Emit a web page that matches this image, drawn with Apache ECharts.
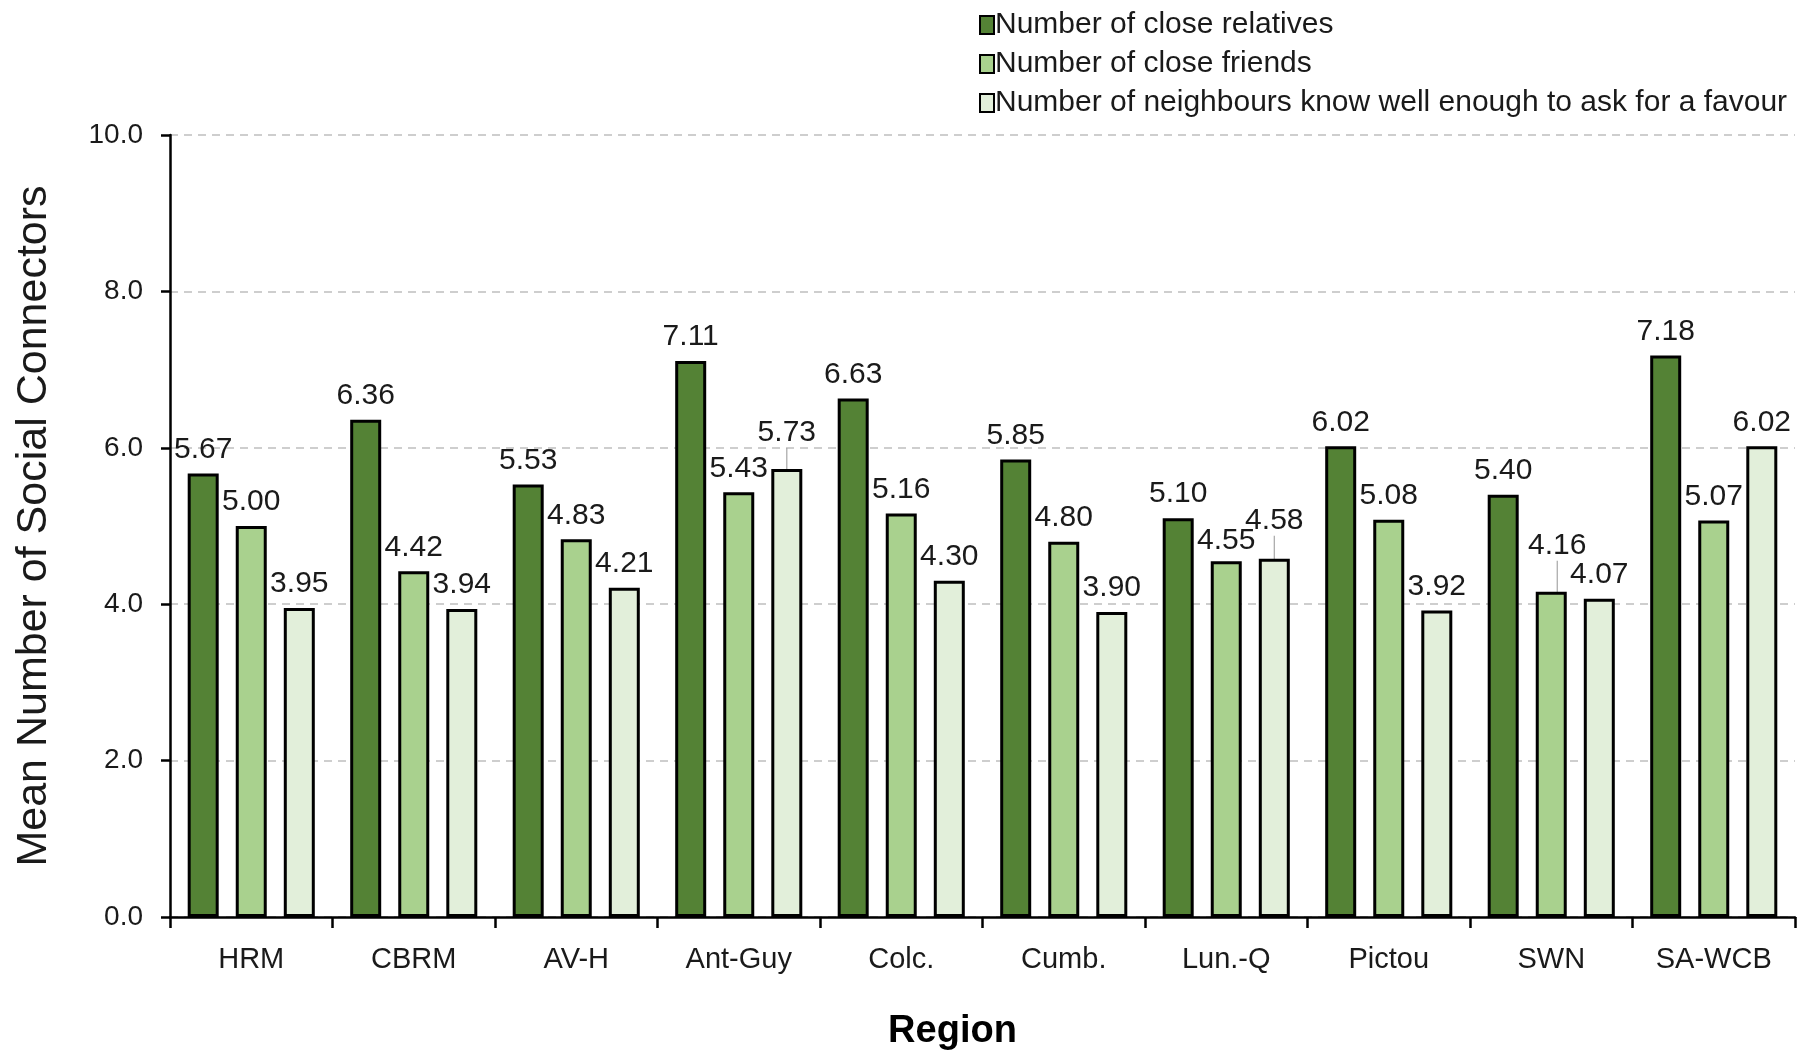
<!DOCTYPE html>
<html lang="en">
<head>
<meta charset="UTF-8">
<title>Social Connectors by Region</title>
<script src="https://cdn.jsdelivr.net/npm/echarts@6/dist/echarts.min.js"></script>
<style>
  html, body { margin: 0; padding: 0; background: #fff; }
  #cc { width: 1798px; height: 1050px; }
</style>
</head>
<body>
<div id="cc"></div>
<script>
var regions = ['HRM', 'CBRM', 'AV-H', 'Ant-Guy', 'Colc.', 'Cumb.', 'Lun.-Q', 'Pictou', 'SWN', 'SA-WCB'];
var relatives = [5.67, 6.36, 5.53, 7.11, 6.63, 5.85, 5.10, 6.02, 5.40, 7.18];
var friends = [5.00, 4.42, 4.83, 5.43, 5.16, 4.80, 4.55, 5.08, 4.16, 5.07];
var neighbours = [3.95, 3.94, 4.21, 5.73, 4.30, 3.90, 4.58, 3.92, 4.07, 6.02];
var seriesNames = [
    'Number of close relatives',
    'Number of close friends',
    'Number of neighbours know well enough to ask for a favour'
];
var yTicks = [0, 2, 4, 6, 8, 10];

var font = "'Liberation Sans', Arial, sans-serif";
var colors = ['#548235', '#a9d18e', '#e2efda'];

// a few labels were nudged by hand in the original; the lifted ones get a leader line
var nudged = {
    '1-6': {dx: 0, dy: 4},
    '2-3': {dx: 0, dy: -12, line: true},
    '2-6': {dx: 0, dy: -14, line: true},
    '1-8': {dx: 6, dy: -22, line: true}
};

var chart = echarts.init(document.getElementById('cc'));

function makeSeries(name, data, idx) {
    return {
        name: name,
        type: 'bar',
        data: data,
        barWidth: 31,
        barGap: '55%',
        itemStyle: {color: colors[idx], borderColor: '#000', borderWidth: 3},
        label: {
            show: true,
            position: 'top',
            distance: 9,
            fontFamily: font,
            fontSize: 30,
            color: '#1a1a1a',
            formatter: function (p) { return p.value.toFixed(2); }
        },
        labelLine: {show: false, lineStyle: {color: '#a6a6a6', width: 1.2}},
        labelLayout: function (p) {
            var n = nudged[p.seriesIndex + '-' + p.dataIndex];
            if (!n) return {};
            return {dx: n.dx, dy: n.dy};
        }
    };
}

var series = [
    makeSeries(seriesNames[0], relatives, 0),
    makeSeries(seriesNames[1], friends, 1),
    makeSeries(seriesNames[2], neighbours, 2)
];
// turn on the leader line only for the lifted labels
Object.keys(nudged).forEach(function (k) {
    if (!nudged[k].line) return;
    var parts = k.split('-');
    var s = series[+parts[0]];
    var i = +parts[1];
    s.data = s.data.map(function (v, j) {
        if (typeof v === 'object') return v;
        return j === i ? {value: v, labelLine: {show: true}} : v;
    });
});

chart.setOption({
    animation: false,
    textStyle: {fontFamily: font},
    legend: {
        orient: 'vertical',
        left: 974,
        top: 5,
        itemWidth: 14,
        itemHeight: 18,
        itemGap: 9,
        icon: 'rect',
        textStyle: {fontFamily: font, fontSize: 30, color: '#1a1a1a', padding: [0, 0, 0, -4]},
        data: seriesNames
    },
    grid: {left: 170, right: 3, top: 135, bottom: 133, containLabel: false, outerBoundsMode: 'none'},
    xAxis: {
        type: 'category',
        data: regions,
        name: 'Region',
        nameLocation: 'middle',
        nameGap: 96,
        nameTextStyle: {fontFamily: font, fontSize: 38, fontWeight: 'bold', color: '#000', padding: [0, 60, 0, 0]},
        axisLine: {lineStyle: {color: '#000', width: 2.5}},
        axisTick: {show: true, length: 11, lineStyle: {color: '#000', width: 2.5}},
        axisLabel: {fontFamily: font, fontSize: 29, color: '#1a1a1a', margin: 28}
    },
    yAxis: {
        type: 'value',
        min: 0,
        max: 10,
        interval: 2,
        name: 'Mean Number of Social Connectors',
        nameLocation: 'middle',
        nameGap: 114,
        nameTextStyle: {fontFamily: font, fontSize: 43, color: '#1a1a1a'},
        axisLine: {show: true, lineStyle: {color: '#000', width: 2.5}},
        axisTick: {show: true, length: 9, lineStyle: {color: '#000', width: 2.5}},
        axisLabel: {
            fontFamily: font, fontSize: 28, color: '#1a1a1a', margin: 27,
            formatter: function (v) { return yTicks.indexOf(v) >= 0 ? v.toFixed(1) : ''; }
        },
        splitLine: {show: true, lineStyle: {color: '#bfbfbf', width: 1.5, type: [8, 6]}}
    },
    series: series
});
</script>
</body>
</html>
